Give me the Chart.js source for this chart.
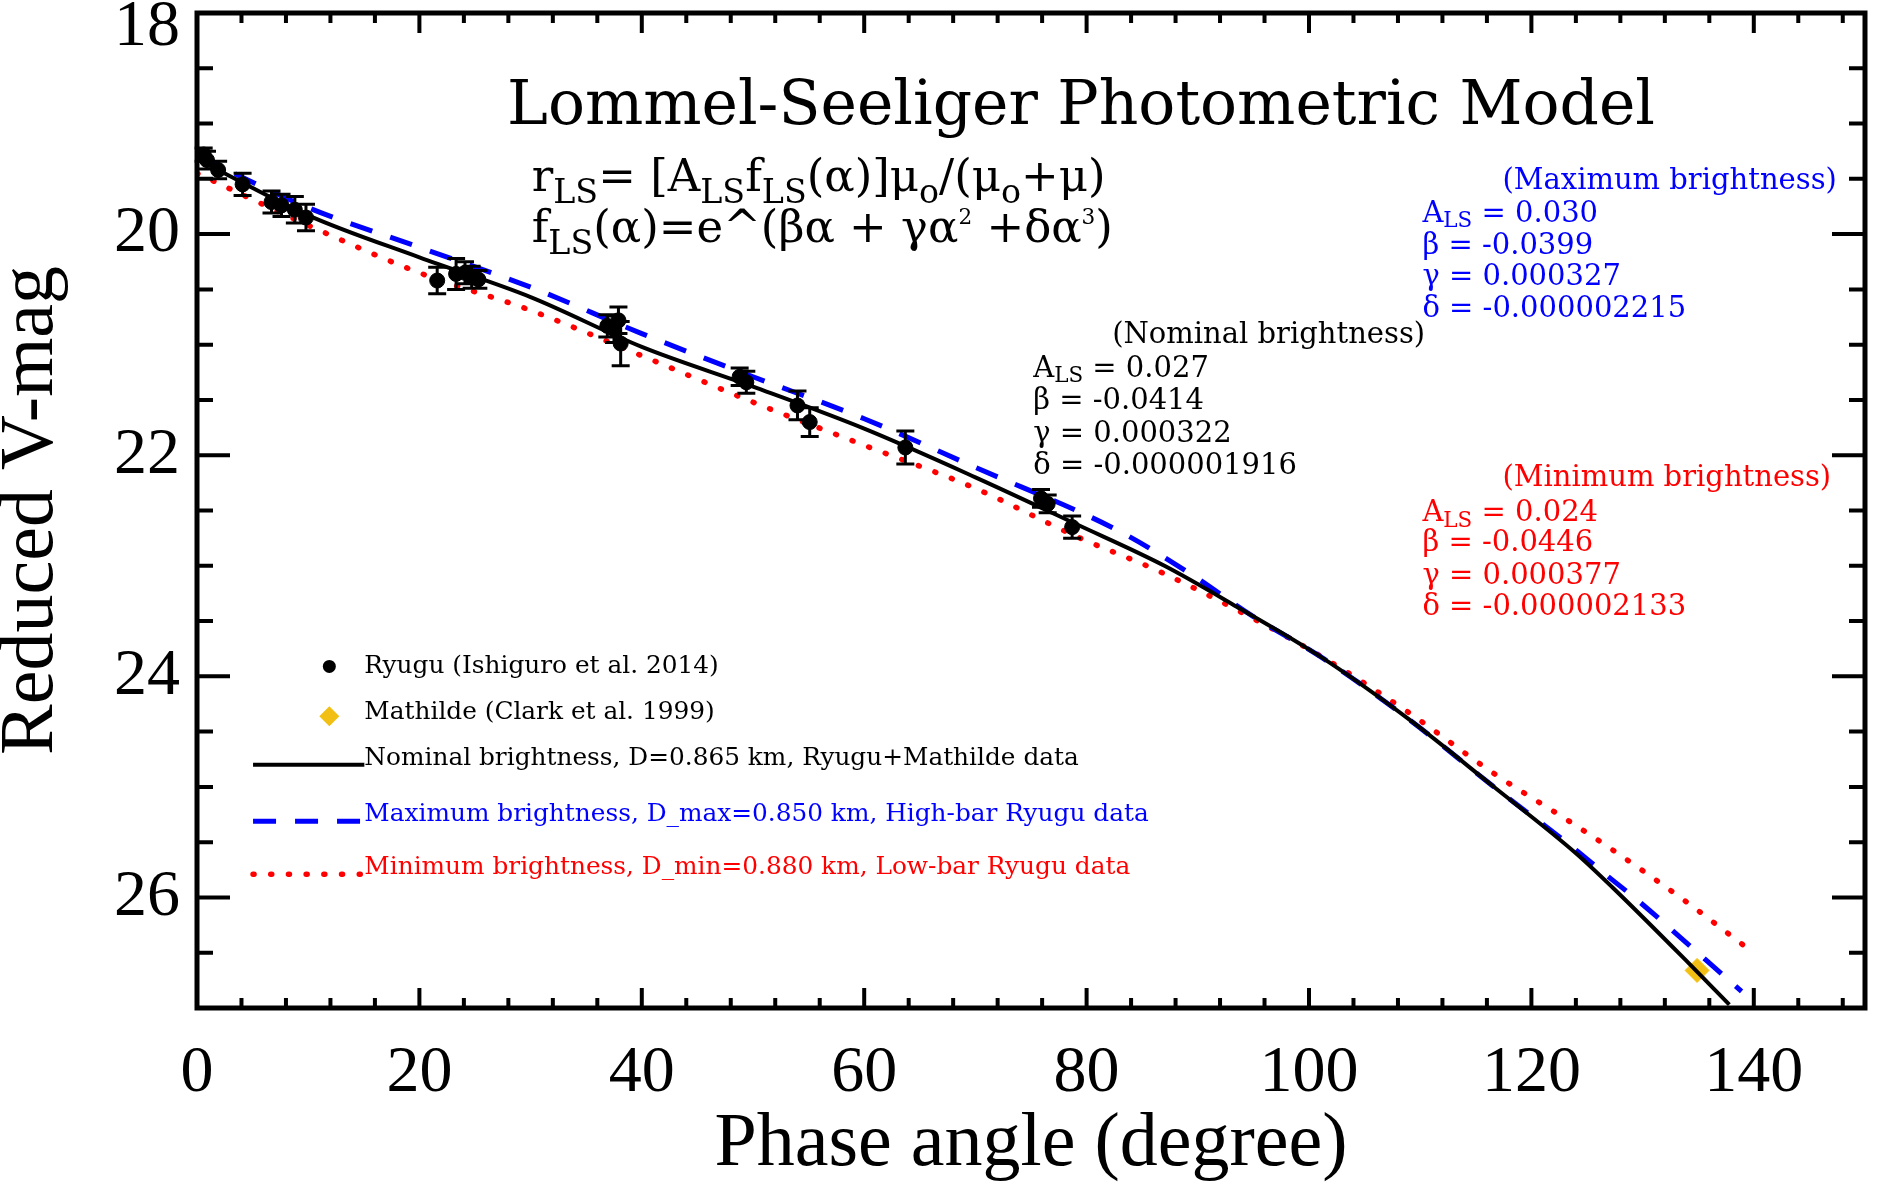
<!DOCTYPE html>
<html>
<head>
<meta charset="utf-8">
<title>Lommel-Seeliger Photometric Model</title>
<script src="https://cdn.jsdelivr.net/npm/chart.js@4.4.1/dist/chart.umd.min.js"></script>
<style>
  html, body { margin: 0; padding: 0; background: #fff; }
  #wrap { width: 1878px; height: 1187px; }
</style>
</head>
<body>
<div id="wrap"><canvas id="lsChart" width="1878" height="1187"></canvas></div>
<script>

// ---------------- DATA ----------------

// Ryugu (Ishiguro et al. 2014): phase angle, reduced V mag, error
const ryuguPhase = [0.6, 0.9, 1.9, 4.1, 6.7, 7.6, 8.8, 9.8, 21.6, 23.3, 24.1, 24.7, 25.3,
                    36.9, 37.5, 37.9, 38.1, 48.8, 49.4, 54.0, 55.1, 63.7, 75.9, 76.5, 78.7];
const ryuguMag   = [19.28, 19.33, 19.42, 19.55, 19.71, 19.74, 19.78, 19.85, 20.42, 20.36, 20.35, 20.39, 20.41,
                    20.83, 20.86, 20.78, 20.99, 21.29, 21.34, 21.55, 21.70, 21.93, 22.39, 22.44, 22.65];
const ryuguErr   = [0.06, 0.08, 0.08, 0.10, 0.10, 0.10, 0.12, 0.12, 0.12, 0.14, 0.10, 0.10, 0.08,
                    0.10, 0.12, 0.12, 0.20, 0.08, 0.10, 0.13, 0.13, 0.15, 0.08, 0.08, 0.10];

// Mathilde (Clark et al. 1999)
const mathildePhase = [134.9];
const mathildeMag   = [26.66];

// model curves
const nominalPhase = [0, 10, 20, 30, 40, 50, 60, 70, 79, 87, 93.5, 101, 109, 116.5, 124, 127.3, 134.1, 137.8];
const nominalMag   = [19.32, 19.83, 20.21, 20.57, 21.02, 21.38, 21.76, 22.20, 22.62, 23.00, 23.37, 23.82,
                      24.39, 24.99, 25.60, 25.91, 26.59, 26.97];

const maxPhase = [0, 10, 20, 30, 40, 50, 60, 70, 82.8, 89.3, 95, 101, 109, 116.5, 124, 126.4, 129.6, 135.3, 138.9];
const maxMag   = [19.29, 19.76, 20.12, 20.48, 20.90, 21.29, 21.67, 22.11, 22.68, 23.07, 23.46, 23.82,
                  24.39, 24.99, 25.57, 25.77, 26.03, 26.53, 26.85];

const minPhase = [0, 10, 20, 30, 40, 50, 60, 70, 79.2, 86.3, 94.1, 101.6, 109, 116.5, 123.7, 127.3, 133.8, 139.3];
const minMag   = [19.45, 19.92, 20.35, 20.69, 21.10, 21.52, 21.91, 22.30, 22.74, 23.04, 23.43, 23.85,
                  24.33, 24.87, 25.33, 25.57, 26.03, 26.45];

// axes
const xTicks = [0, 20, 40, 60, 80, 100, 120, 140];
const yTicks = [18, 20, 22, 24, 26];
const xMinorStep = 4;
const yMinorStep = 0.5;


// ---------------- HELPERS ----------------

const FONT = "'Liberation Serif', 'Times New Roman', serif";   // axes
const TEXT_FONT = "'DejaVu Serif', serif";                     // title, notes, legend
const BLUE = "#0000ff";
const RED = "#ff0000";
const GOLD = "#f2c014";

Chart.defaults.font.family = FONT;
Chart.defaults.color = "#000";

function toPoints(xs, ys) {
  return xs.map((v, i) => ({ x: v, y: ys[i] }));
}

function pos(chart, a, m) {
  return [chart.scales.x.getPixelForValue(a), chart.scales.y.getPixelForValue(m)];
}

// draws text made of [string, "n" | "sub" | "sup"] parts
function drawRich(ctx, parts, x, y, size) {
  let cx = x;
  parts.forEach(([txt, kind]) => {
    let s = size, dy = 0;
    if (kind === "sub") { s = size * 0.74; dy = size * 0.26; }
    if (kind === "sup") { s = size * 0.48; dy = -size * 0.4; }
    ctx.font = s + "px " + TEXT_FONT;
    ctx.fillText(txt, cx, y + dy);
    cx += ctx.measureText(txt).width;
  });
}


// ---------------- PLUGINS ----------------

const errorBars = {
  id: "errorBars",
  afterDatasetsDraw(chart) {
    const ctx = chart.ctx;
    ctx.save();
    ctx.strokeStyle = "#000";
    ctx.lineWidth = 3;
    ctx.beginPath();
    ryuguPhase.forEach((a, i) => {
      const [x, y1] = pos(chart, a, ryuguMag[i] - ryuguErr[i]);
      const y2 = chart.scales.y.getPixelForValue(ryuguMag[i] + ryuguErr[i]);
      ctx.moveTo(x, y1); ctx.lineTo(x, y2);
      ctx.moveTo(x - 9, y1); ctx.lineTo(x + 9, y1);
      ctx.moveTo(x - 9, y2); ctx.lineTo(x + 9, y2);
    });
    ctx.stroke();
    ctx.restore();
  }
};


const frame = {
  id: "frame",
  afterDraw(chart) {
    const { ctx, chartArea: ca, scales: { x, y } } = chart;

    ctx.save();
    ctx.strokeStyle = "#000";
    ctx.lineWidth = 5;
    ctx.strokeRect(ca.left, ca.top, ca.right - ca.left, ca.bottom - ca.top);

    ctx.lineWidth = 4;
    ctx.beginPath();

    for (let v = xMinorStep; v < x.max; v += xMinorStep) {
      const p = x.getPixelForValue(v);
      const len = xTicks.includes(v) ? 20 : 10;
      ctx.moveTo(p, ca.bottom); ctx.lineTo(p, ca.bottom - len);
      ctx.moveTo(p, ca.top); ctx.lineTo(p, ca.top + len);
    }

    for (let v = y.min + yMinorStep; v < y.max; v += yMinorStep) {
      const p = y.getPixelForValue(v);
      const len = yTicks.includes(v) ? 33 : 16;
      ctx.moveTo(ca.left, p); ctx.lineTo(ca.left + len, p);
      ctx.moveTo(ca.right, p); ctx.lineTo(ca.right - len, p);
    }

    ctx.stroke();

    // y tick labels
    ctx.fillStyle = "#000";
    ctx.font = "66px " + FONT;
    ctx.textAlign = "right";
    ctx.textBaseline = "middle";
    yTicks.forEach(v => {
      const p = Math.max(y.getPixelForValue(v), ca.top + 15);
      ctx.fillText(String(v), ca.left - 17, p);
    });

    ctx.restore();
  }
};


const notes = {
  id: "notes",
  afterDraw(chart) {
    const ctx = chart.ctx;
    ctx.save();

    // title + formula
    ctx.fillStyle = "#000";
    ctx.textBaseline = "alphabetic";
    ctx.textAlign = "center";
    ctx.font = "61.5px " + TEXT_FONT;
    let [tx, ty] = pos(chart, 79.5, 19.0);
    ctx.fillText("Lommel-Seeliger Photometric Model", tx, ty);

    ctx.textAlign = "left";
    [tx, ty] = pos(chart, 30.1, 19.61);
    drawRich(ctx, [["r", "n"], ["LS", "sub"], ["= [A", "n"], ["LS", "sub"], ["f", "n"], ["LS", "sub"],
                   ["(α)]μ", "n"], ["o", "sub"], ["/(μ", "n"], ["o", "sub"], ["+μ)", "n"]], tx, ty, 45);
    [tx, ty] = pos(chart, 30.1, 20.07);
    drawRich(ctx, [["f", "n"], ["LS", "sub"], ["(α)=e^(βα + γα", "n"], ["2", "sup"],
                   [" +δα", "n"], ["3", "sup"], [")", "n"]], tx, ty, 45);

    // parameter blocks
    ctx.textBaseline = "middle";
    const blocks = [
      { color: "#000", head: "(Nominal brightness)", hx: 82.3, hy: 20.92, lx: 75.2,
        rows: [21.22, 21.51, 21.81, 22.10], vals: ["0.027", "-0.0414", "0.000322", "-0.000001916"] },
      { color: BLUE, head: "(Maximum brightness)", hx: 117.4, hy: 19.52, lx: 110.2,
        rows: [19.82, 20.11, 20.39, 20.68], vals: ["0.030", "-0.0399", "0.000327", "-0.000002215"] },
      { color: RED, head: "(Minimum brightness)", hx: 117.4, hy: 22.21, lx: 110.2,
        rows: [22.53, 22.80, 23.10, 23.38], vals: ["0.024", "-0.0446", "0.000377", "-0.000002133"] }
    ];
    blocks.forEach(b => {
      ctx.fillStyle = b.color;
      ctx.font = "29px " + TEXT_FONT;
      let [x, y] = pos(chart, b.hx, b.hy);
      ctx.fillText(b.head, x, y);
      [x, y] = pos(chart, b.lx, b.rows[0]);
      drawRich(ctx, [["A", "n"], ["LS", "sub"], [" = " + b.vals[0], "n"]], x, y, 29);
      ["β", "γ", "δ"].forEach((g, k) => {
        [x, y] = pos(chart, b.lx, b.rows[k + 1]);
        ctx.font = "29px " + TEXT_FONT;
        ctx.fillText(g + " = " + b.vals[k + 1], x, y);
      });
    });

    // legend
    ctx.textBaseline = "alphabetic";
    ctx.font = "24.8px " + TEXT_FONT;
    const textX = chart.scales.x.getPixelForValue(15.05);
    const lineX0 = chart.scales.x.getPixelForValue(5.04);
    const markX = chart.scales.x.getPixelForValue(11.9);

    let my = chart.scales.y.getPixelForValue(23.91);
    ctx.fillStyle = "#000";
    ctx.beginPath(); ctx.arc(markX, my, 6.5, 0, Math.PI * 2); ctx.fill();
    ctx.fillText("Ryugu (Ishiguro et al. 2014)", textX, chart.scales.y.getPixelForValue(23.97));

    my = chart.scales.y.getPixelForValue(24.36);
    ctx.fillStyle = GOLD;
    ctx.beginPath();
    ctx.moveTo(markX, my - 10); ctx.lineTo(markX + 10, my); ctx.lineTo(markX, my + 10); ctx.lineTo(markX - 10, my);
    ctx.closePath(); ctx.fill();
    ctx.fillStyle = "#000";
    ctx.fillText("Mathilde (Clark et al. 1999)", textX, chart.scales.y.getPixelForValue(24.39));

    const legendLines = [
      { mag: 24.80, color: "#000", dash: [], cap: "butt", w: 4,
        text: "Nominal brightness, D=0.865 km, Ryugu+Mathilde data" },
      { mag: 25.31, color: BLUE, dash: [23, 19], cap: "butt", w: 5,
        text: "Maximum brightness, D_max=0.850 km, High-bar Ryugu data" },
      { mag: 25.79, color: RED, dash: [1, 16.7], cap: "round", w: 5.5,
        text: "Minimum brightness, D_min=0.880 km, Low-bar Ryugu data" }
    ];
    legendLines.forEach(l => {
      const ly = chart.scales.y.getPixelForValue(l.mag);
      ctx.strokeStyle = l.color;
      ctx.lineWidth = l.w;
      ctx.lineCap = l.cap;
      ctx.setLineDash(l.dash);
      ctx.beginPath(); ctx.moveTo(lineX0, ly); ctx.lineTo(textX, ly); ctx.stroke();
      ctx.setLineDash([]);
      ctx.fillStyle = l.color;
      ctx.fillText(l.text, textX, ly);
    });

    ctx.restore();
  }
};


// ---------------- CHART ----------------

new Chart(document.getElementById("lsChart"), {

  type: "scatter",

  data: {
    datasets: [
      {
        label: "Ryugu (Ishiguro et al. 2014)",
        data: toPoints(ryuguPhase, ryuguMag),
        pointStyle: "circle",
        pointRadius: 7.5,
        backgroundColor: "#000",
        borderColor: "#000",
        order: 1
      },
      {
        label: "Nominal brightness",
        data: toPoints(nominalPhase, nominalMag),
        showLine: true,
        borderColor: "#000",
        borderWidth: 4,
        pointRadius: 0,
        cubicInterpolationMode: "monotone",
        order: 2
      },
      {
        label: "Mathilde (Clark et al. 1999)",
        data: toPoints(mathildePhase, mathildeMag),
        pointStyle: "rectRot",
        pointRadius: 12,
        backgroundColor: GOLD,
        borderColor: GOLD,
        order: 3
      },
      {
        label: "Maximum brightness",
        data: toPoints(maxPhase, maxMag),
        showLine: true,
        borderColor: BLUE,
        borderWidth: 5,
        borderDash: [23, 19],
        pointRadius: 0,
        cubicInterpolationMode: "monotone",
        order: 4
      },
      {
        label: "Minimum brightness",
        data: toPoints(minPhase, minMag),
        showLine: true,
        borderColor: RED,
        borderWidth: 5.5,
        borderDash: [1, 16.7],
        borderCapStyle: "round",
        pointRadius: 0,
        cubicInterpolationMode: "monotone",
        order: 5
      }
    ]
  },

  options: {
    responsive: false,
    animation: false,
    devicePixelRatio: 1,
    layout: { padding: { top: 11, right: 7, left: 0, bottom: 0 } },
    plugins: {
      legend: { display: false },
      tooltip: { enabled: false }
    },
    scales: {
      x: {
        type: "linear",
        min: 0,
        max: 150,
        grid: { display: false, drawTicks: false },
        border: { display: false },
        afterBuildTicks: s => { s.ticks = xTicks.map(v => ({ value: v })); },
        afterFit: s => { s.height = 179; s.paddingLeft = 0; s.paddingRight = 0; },
        ticks: {
          padding: 26,
          maxRotation: 0,
          autoSkip: false,
          color: "#000",
          font: { family: FONT, size: 66 }
        },
        title: {
          display: true,
          text: "Phase angle (degree)",
          color: "#000",
          font: { family: FONT, size: 76, lineHeight: 1.1 },
          padding: { top: 0, bottom: 0 }
        }
      },
      y: {
        type: "linear",
        reverse: true,
        min: 18,
        max: 27,
        grid: { display: false, drawTicks: false },
        border: { display: false },
        ticks: { display: false },
        afterFit: s => { s.width = 197; s.paddingTop = 0; s.paddingBottom = 0; },
        title: {
          display: true,
          text: "Reduced V-mag",
          color: "#000",
          font: { family: FONT, size: 76, lineHeight: 0.85 },
          padding: { top: 0, bottom: 0 }
        }
      }
    }
  },

  plugins: [errorBars, frame, notes]
});

</script>
</body>
</html>
